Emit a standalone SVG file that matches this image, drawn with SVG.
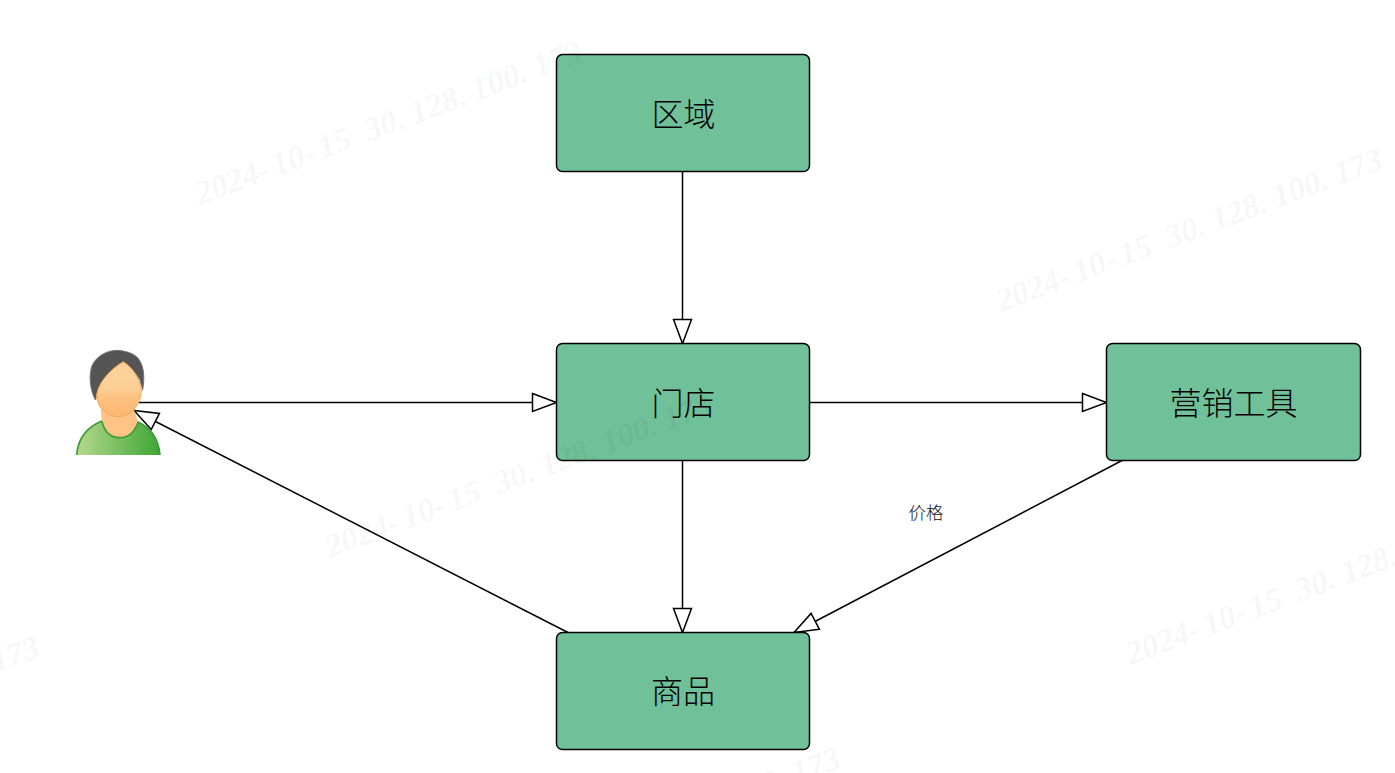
<svg xmlns="http://www.w3.org/2000/svg" width="1395" height="773" viewBox="0 0 1395 773">
<style>
.box{fill:#70c19a;stroke:#000;stroke-width:1.5}
.lbl{font-family:"Noto Sans CJK SC","Liberation Serif",serif;font-size:32px;font-weight:300;fill:#000;text-anchor:middle}
.edge{fill:none;stroke:#000;stroke-width:1.5;marker-end:url(#tri)}
.wm{font-family:"Liberation Serif",serif;font-size:33px;font-weight:bold;font-style:italic;fill:#000;fill-opacity:.045;stroke:#000;stroke-opacity:.03;stroke-width:.7}
</style>
<defs>
<marker id="tri" markerUnits="userSpaceOnUse" markerWidth="28" markerHeight="22" refX="25" refY="11" orient="auto" overflow="visible">
<path d="M1,2 L25,11 L1,20 Z" fill="#fff" stroke="#000" stroke-width="1.5"/>
</marker>
<linearGradient id="shirt" x1="0" x2="1" y1="0" y2="0"><stop offset="0" stop-color="#b5d98d"/><stop offset="1" stop-color="#3fa535"/></linearGradient>
<linearGradient id="face" x1="0" x2="0" y1="0" y2="1"><stop offset="0" stop-color="#fdd39b"/><stop offset=".5" stop-color="#fdcf96"/><stop offset=".62" stop-color="#fdc282"/><stop offset="1" stop-color="#fdb76f"/></linearGradient>
<clipPath id="pclip"><rect x="0" y="0" width="330" height="345"/></clipPath>
<text id="wmt" class="wm" x="0 16.4 32.8 49.2 65.6 82 98.4 114.8 131.2 147.6 164 180.4 196.8 213.2 229.6 246 262.4 278.8 295.2 311.6 328 344.4 360.8 377.2 393.6" y="0">2024-10-15 30.128.100.173</text>
</defs>
<g id="connectors">
<path class="edge" d="M682.5,171.5 V343.5"/>
<path class="edge" d="M139,402.5 H556.5"/>
<path class="edge" d="M809.5,402.5 H1106.5"/>
<path class="edge" d="M682.5,460.5 V632.5"/>
<path class="edge" d="M1122,460.5 L794,632.5"/>
<path class="edge" d="M568,632.5 L134,410.5"/>
<text x="926" y="519" font-family="'Noto Sans CJK SC',serif" font-size="17.5" font-weight="300" text-anchor="middle" fill="#111">价格</text>
</g>
<g id="node-region"><rect class="box" x="556.5" y="54.5" width="253" height="117" rx="6"/><text class="lbl" x="683.5" y="126">区域</text></g>
<g id="node-store"><rect class="box" x="556.5" y="343.5" width="253" height="117" rx="6"/><text class="lbl" x="683.5" y="415">门店</text></g>
<g id="node-tools"><rect class="box" x="1106.5" y="343.5" width="254" height="117" rx="6"/><text class="lbl" x="1233.5" y="415">营销工具</text></g>
<g id="node-goods"><rect class="box" x="556.5" y="632.5" width="253" height="117" rx="6"/><text class="lbl" x="683" y="703">商品</text></g>
<g id="node-person" transform="translate(60 340) scale(.3333)">
<g clip-path="url(#pclip)">
<path d="M50,345 C54,292 85,260 125,243 L232,245 C270,260 296,295 300,345 Z" fill="url(#shirt)"/>
<path d="M50,345 C54,292 85,260 125,243 M232,245 C270,260 296,295 300,345" fill="none" stroke="#3c9c38" stroke-width="5"/>
<path d="M122,205 L125,243 C135,280 155,293 178,293 C205,293 225,275 235,245 L220,205 Z" fill="#fdc486"/>
<path d="M125,243 C135,280 155,293 178,293 C205,293 225,275 235,245" fill="none" stroke="#3c9c38" stroke-width="5"/>
<path d="M106,180 C90,150 85,105 97,75 C112,45 145,30 175,31 C195,33 215,38 230,50 C250,70 256,105 248,150 L240,120 C225,95 205,75 190,65 C165,80 125,115 115,160 Z" fill="#555" stroke="#777" stroke-width="3"/>
<path d="M190,66 C215,80 240,115 244,150 C244,195 210,230 175,230 C140,230 108,198 110,165 C115,125 160,80 190,66 Z" fill="url(#face)" stroke="#f6a652" stroke-width="3"/>
</g>
</g>
<g id="watermarks">
<use href="#wmt" transform="translate(200 205) rotate(-20.6)"/>
<use href="#wmt" transform="translate(1001 312) rotate(-20.6)"/>
<use href="#wmt" transform="translate(330 558) rotate(-20.6)"/>
<use href="#wmt" transform="translate(1131 665) rotate(-20.6)"/>
<use href="#wmt" transform="translate(-342 800) rotate(-20.6)"/>
<use href="#wmt" transform="translate(459 911) rotate(-20.6)"/>
</g>
</svg>
